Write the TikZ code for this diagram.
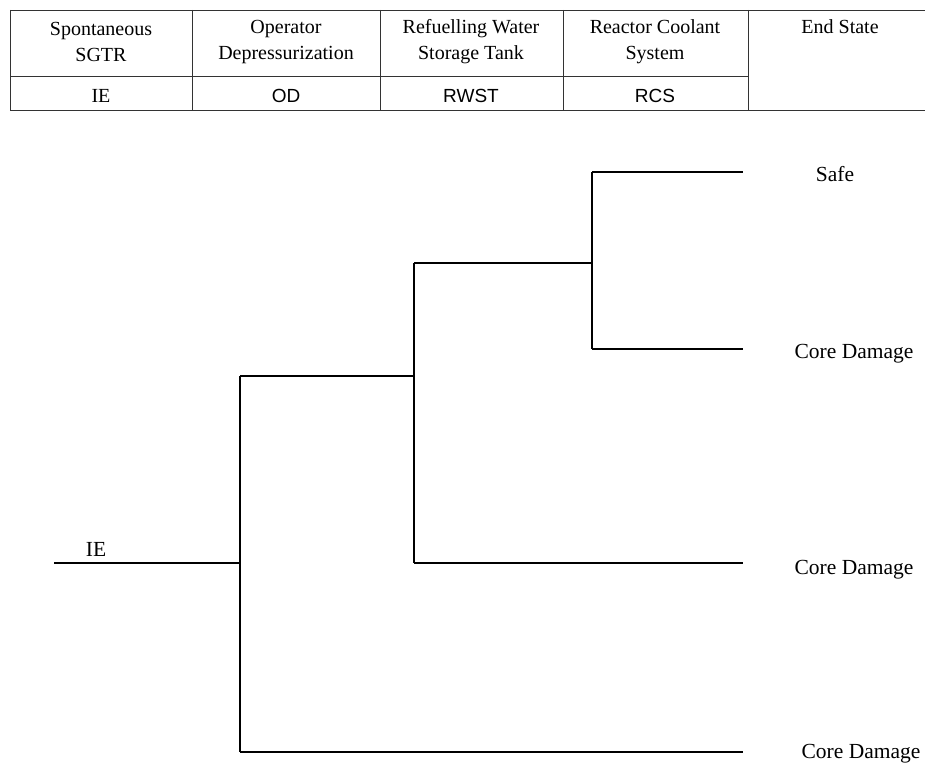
\documentclass[tikz,border=0pt]{standalone}
\usepackage{fontspec}
\setmainfont{Liberation Serif}
\setsansfont{Liberation Sans}
\begin{document}
\begin{tikzpicture}[x=1pt,y=-1pt,
  tbl/.style={line width=0.9pt,draw=black!80},
  br/.style={line width=2pt,draw=black},
  hdr/.style={align=center,inner sep=0pt,font=\fontsize{20}{26}\selectfont},
  code/.style={anchor=base,inner sep=0pt,font=\fontsize{19}{22}\selectfont\sffamily},
  codeserif/.style={anchor=base,inner sep=0pt,font=\fontsize{20}{22}\selectfont},
  endst/.style={anchor=base,inner sep=0pt,font=\fontsize{21.5}{24}\selectfont}
]
\useasboundingbox (0,0) rectangle (925,762);
% table
\draw[tbl] (10,10) -- (925,10);
\draw[tbl] (10,76) -- (748,76);
\draw[tbl] (10,110) -- (925,110);
\foreach \x in {10,192,380,563,748} \draw[tbl] (\x,10) -- (\x,110);
\node[hdr] (h1) at (101,42) {Spontaneous\\SGTR};
\node[hdr] (h2) at (286,42) {Operator\\Depressurization};
\node[hdr] (h3) at (471,42) {Refuelling Water\\Storage Tank};
\node[hdr] (h4) at (655,42) {Reactor Coolant\\System};
\node[anchor=base,inner sep=0pt,font=\fontsize{20}{26}\selectfont] (h5) at (840,34) {End State};
\node[codeserif] (c1) at (101,103) {IE};
\node[code] (c2) at (286,103) {OD};
\node[code] (c3) at (471,103) {RWST};
\node[code] (c4) at (655,103) {RCS};
% tree coordinates
\coordinate (s) at (54,563);
\coordinate (a) at (240,563);
\coordinate (at) at (240,376);
\coordinate (ab) at (240,752);
\coordinate (b) at (414,376);
\coordinate (bt) at (414,263);
\coordinate (bb) at (414,563);
\coordinate (c) at (592,263);
\coordinate (ct) at (592,172);
\coordinate (cb) at (592,349);
\coordinate (e1) at (743,172);
\coordinate (e2) at (743,349);
\coordinate (e3) at (743,563);
\coordinate (e4) at (743,752);
\draw[br] (s) -- (a);
\draw[br] (at) -- (ab);
\draw[br] (at) -- (b);
\draw[br] (ab) -- (e4);
\draw[br] (bt) -- (bb);
\draw[br] (bt) -- (c);
\draw[br] (bb) -- (e3);
\draw[br] (ct) -- (cb);
\draw[br] (ct) -- (e1);
\draw[br] (cb) -- (e2);
\node[endst] (ie) at (96,556) {IE};
\node[endst] (l1) at (835,182) {Safe};
\node[endst] (l2) at (854,358) {Core Damage};
\node[endst] (l3) at (854,574) {Core Damage};
\node[endst] (l4) at (861,758) {Core Damage};
\end{tikzpicture}
\end{document}
